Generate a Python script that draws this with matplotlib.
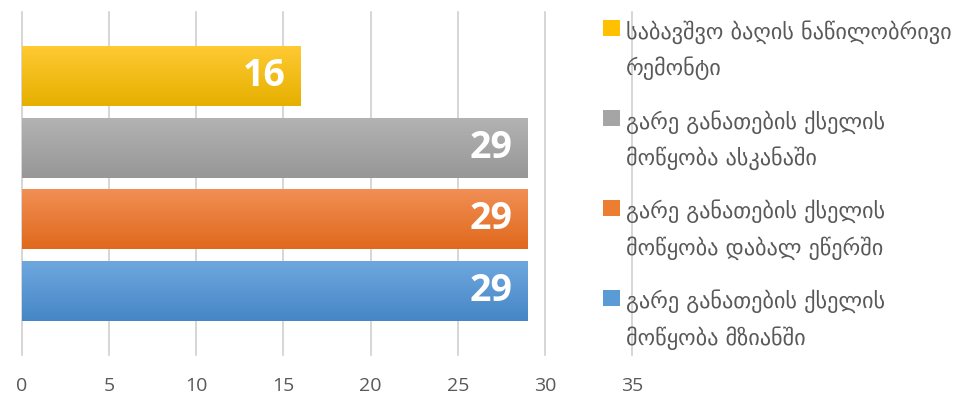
import matplotlib
matplotlib.use("Agg")
import matplotlib.pyplot as plt
import numpy as np
from matplotlib.patches import Patch
from matplotlib.colors import LinearSegmentedColormap

categories = [
    "გარე განათების ქსელის\nმოწყობა მზიანში",
    "გარე განათების ქსელის\nმოწყობა დაბალ ეწერში",
    "გარე განათების ქსელის\nმოწყობა ასკანაში",
    "საბავშვო ბაღის ნაწილობრივი\nრემონტი",
]
values = [29, 29, 29, 16]
colors = ["#5B9BD5", "#ED7D31", "#A5A5A5", "#FFC000"]
light = ["#6FA8DE", "#F18F55", "#B3B3B3", "#FFCA33"]
dark = ["#4686C6", "#E0691C", "#979797", "#E6B000"]
xticks = [0, 5, 10, 15, 20, 25, 30, 35]

fig = plt.figure(figsize=(9.59, 4.07), dpi=100)
ax = fig.add_axes([22/959, 52/407, 610/959, 343/407])

ypos = np.arange(len(categories))
bars = ax.barh(ypos, values, height=0.84, color=colors, zorder=3)

# gradient fill clipped to each bar
for b, c1, c2 in zip(bars, light, dark):
    x0, y0 = b.get_x(), b.get_y()
    w, h = b.get_width(), b.get_height()
    cmap = LinearSegmentedColormap.from_list("g", [c2, c1])
    grad = np.linspace(0, 1, 64).reshape(-1, 1)
    im = ax.imshow(grad, extent=(x0, x0 + w, y0, y0 + h), origin="lower",
                   cmap=cmap, aspect="auto", zorder=4)
    im.set_clip_path(b)
    b.set_edgecolor("none")

for i, v in enumerate(values):
    ax.annotate(str(v), xy=(v, ypos[i]), xytext=(-11, 0), textcoords="offset points",
                ha="right", va="center", color="white", fontsize=27,
                fontweight="bold", family="Open Sans", zorder=6)

ax.set_xlim(0, 35)
ax.set_ylim(-0.9, 3.9)
ax.set_xticks(xticks)
ax.set_xticklabels([str(t) for t in xticks], family="Open Sans", fontsize=14, color="#595959")
ax.set_yticks([])
ax.tick_params(axis="x", length=0, pad=16)
for s in ax.spines.values():
    s.set_visible(False)
ax.grid(axis="x", color="#D0D0D0", linewidth=1.2, zorder=0)
ax.set_axisbelow(True)
for gl in ax.get_xgridlines():
    gl.set_clip_on(False)

handles = [Patch(facecolor=c) for c in colors]
leg = fig.legend(handles[::-1], categories[::-1], loc="upper left",
                 bbox_to_anchor=(583/959, 1.0), frameon=False,
                 handlelength=0.75, handleheight=0.75, handletextpad=0.28,
                 labelspacing=1.33, borderaxespad=0.5,
                 prop={"family": "DejaVu Sans", "size": 16})
for t in leg.get_texts():
    t.set_color("#595959")
    t.set_linespacing(1.7)
# align each legend marker with the first line of its label
for col in leg._legend_handle_box.get_children():
    for entry in col.get_children():
        entry.align = "top"

fig.savefig("out.png", dpi=100)
